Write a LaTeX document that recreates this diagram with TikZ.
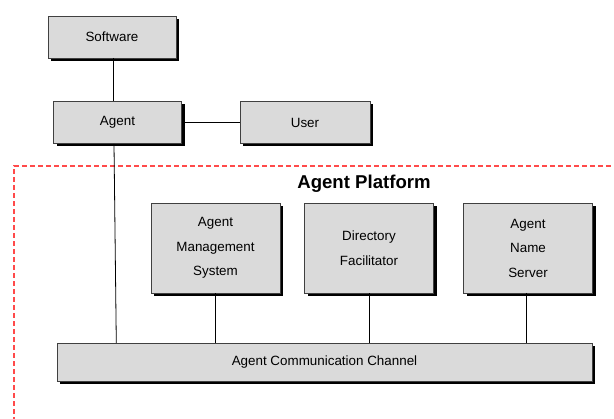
\documentclass[tikz,border=0pt]{standalone}
\usepackage{fontspec}
\setmainfont{Liberation Sans}
\usepackage{tikz}
\usetikzlibrary{shadows}
\definecolor{boxfill}{HTML}{DADADA}
\definecolor{boxline}{HTML}{404040}
\definecolor{platred}{HTML}{FF4A4A}
\tikzstyle{block} = [rectangle, draw=boxline, line width=0.8pt, fill=boxfill, align=center, inner sep=0pt, font=\fontsize{13.4}{24.5}\selectfont, drop shadow={shadow xshift=3pt, shadow yshift=-3pt, fill=black, opacity=1}]
\tikzstyle{topblock} = [block, minimum width=128pt, minimum height=42pt]
\tikzstyle{platblock} = [block, minimum width=129pt, minimum height=90pt]
\tikzstyle{link} = [draw=black, line width=0.8pt]

\begin{document}
\begin{tikzpicture}[x=1pt, y=-1pt]
\useasboundingbox (0, 0) rectangle (614, 419);
% agent platform frame
\draw[platred, line width=1.2pt, dash pattern=on 5pt off 3pt] (14, 430) -- (14, 166) -- (625, 166);
\node[font=\fontsize{18.6}{20}\bfseries] (title) at (364, 184) {Agent Platform};
% outside the platform
\node[topblock] (software) at (112, 37) {Software};
\node[topblock] (agent) at (117.5, 122.5) {Agent};
\node[topblock, minimum width=130pt] (user) at (305, 122.5) {User};
% platform components
\node[platblock] (ams) at (215.5, 248) {Agent\\Management\\System};
\node[platblock] (df) at (369, 248) {Directory\\Facilitator};
\node[platblock] (ans) at (528, 248) {Agent\\Name\\Server};
\node[block, minimum width=535pt, minimum height=38pt] (acc) at (324.5, 362) {Agent Communication Channel};
% connections
\draw[link] (113, 58) coordinate (swfoot) -- (swfoot |- agent.north);
\draw[link] (agent) -- (user);
\draw[link] (114, 144) coordinate (agfoot) -- (116.3, 343);
\draw[link] (ams.south) -- (ams.south |- acc.north);
\draw[link] (df.south) -- (df.south |- acc.north);
\draw[link] (526, 293) coordinate (ansfoot) -- (ansfoot |- acc.north);
\end{tikzpicture}
\end{document}
